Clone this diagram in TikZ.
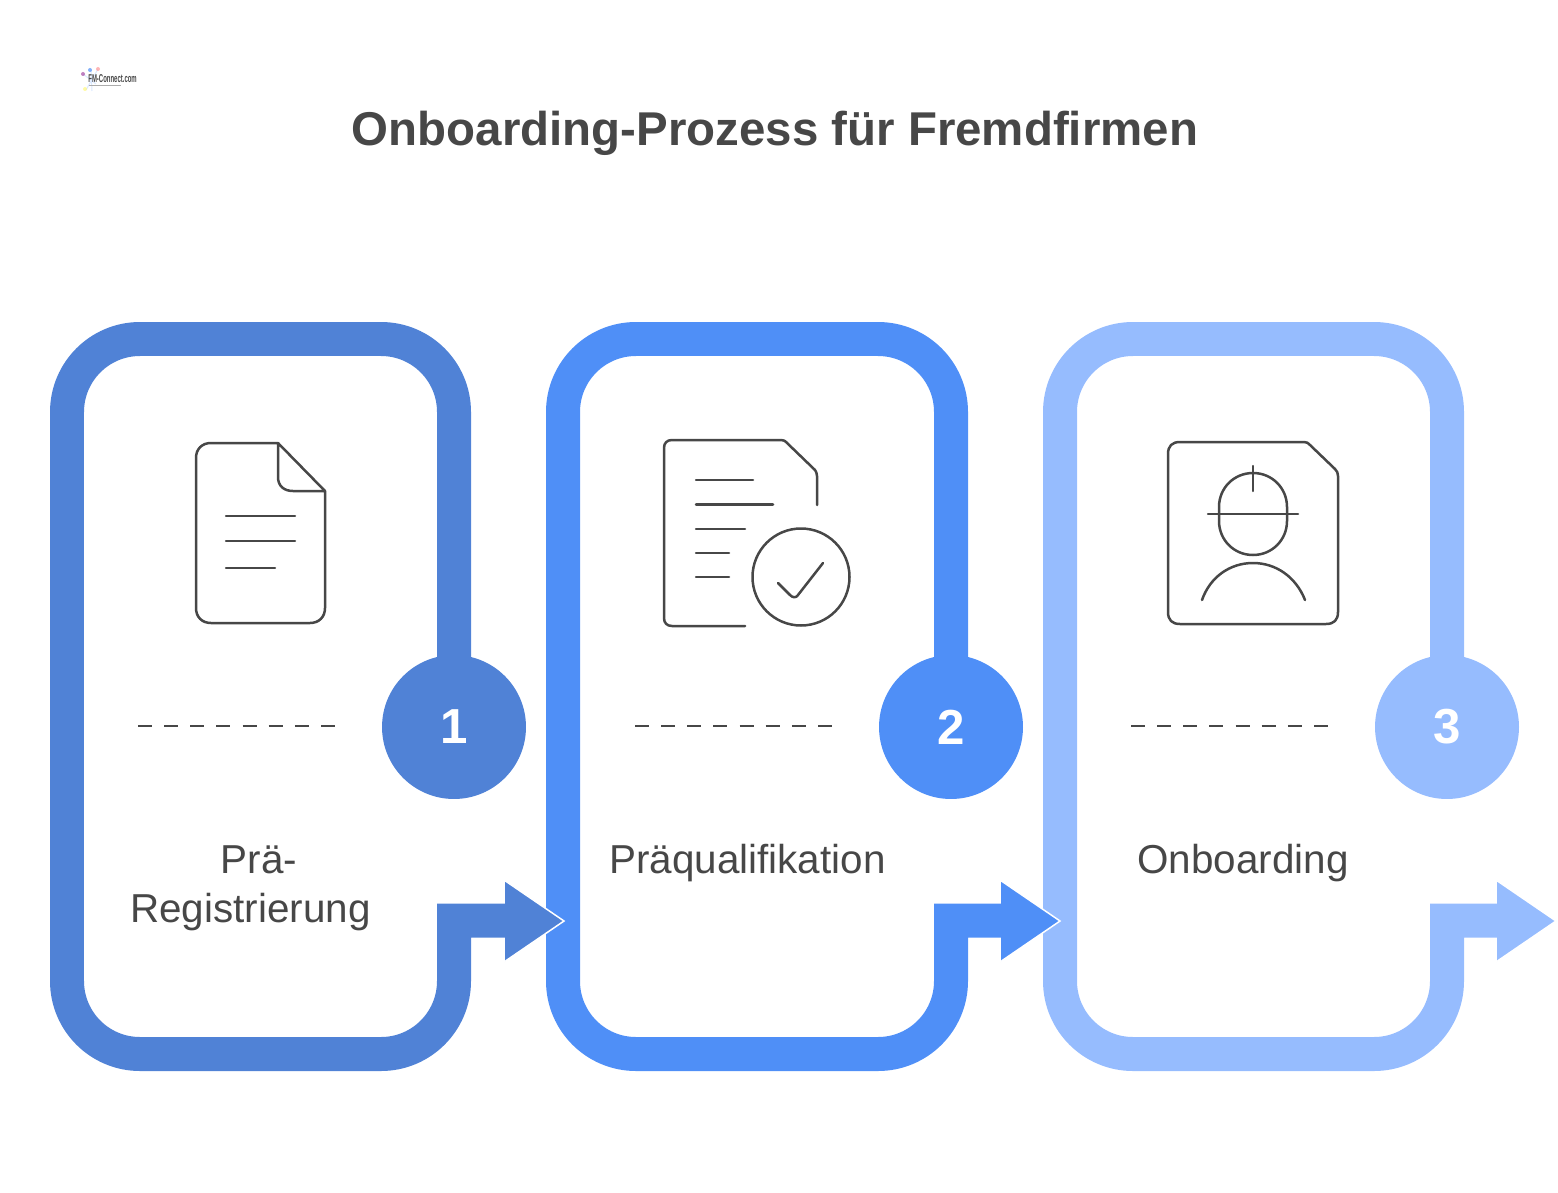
\documentclass[tikz,border=0pt]{standalone}
\usepackage{fontspec}
\setmainfont{Liberation Sans}
\definecolor{stepone}{HTML}{5082D6}
\definecolor{steptwo}{HTML}{4F8FF7}
\definecolor{stepthree}{HTML}{96BCFE}
\definecolor{inkgrey}{HTML}{474747}
\tikzset{
  ring/.style={line width=0.68cm, line join=miter, rounded corners=1.46cm},
  arrowhead/.style={draw=white, line width=0.03cm, line join=miter},
  badge/.style={circle, minimum size=2.88cm, inner sep=0pt, text=white, font=\fontsize{28}{28}\selectfont\bfseries},
  sepline/.style={draw=inkgrey, line width=0.045cm, dash pattern=on 0.28cm off 0.243cm},
  iconline/.style={draw=inkgrey, line width=0.05cm, line cap=round, line join=round},
  steplabel/.style={text=inkgrey, anchor=base, font=\fontsize{23}{23}\selectfont},
  logodot/.style={fill opacity=0.7},
  logostar/.style={draw=stepthree!35, line width=0.02cm},
}
\begin{document}
\begin{tikzpicture}[x=0.02cm, y=-0.02cm]
  \useasboundingbox (0,0) rectangle (1558,1193);

  \node[anchor=base, text=inkgrey, font=\fontsize{27}{27}\selectfont\bfseries] (title) at (775,145) {Onboarding-Prozess für Fremdfirmen};

  \draw[logostar] (83,74) -- (96,84);
  \draw[logostar] (98,69) -- (86,90);
  \draw[logostar] (91,70) -- (92,91);
  \fill[logodot, violet!70] (83,74) circle (2);
  \fill[logodot, steptwo] (90,70) circle (2);
  \fill[logodot, red!40] (98,69) circle (2);
  \fill[logodot, yellow!50] (85,89) circle (2);
  \node[anchor=west, inner sep=0pt, text=inkgrey, font=\fontsize{3.4}{3.4}\selectfont\bfseries] (logo) at (88,79) {\scalebox{1}[1.9]{FM-Connect.com}};
  \fill[inkgrey!45] (89,85.5) rectangle (121,86.5);

  \filldraw[fill=stepthree, arrowhead] (1496,880) -- (1556,921) -- (1496,962) -- cycle;
  \draw[ring, stepthree] (1447,660) -- (1447,339) -- (1060,339) -- (1060,1054) -- (1447,1054) [sharp corners] -- (1447,920.5) -- (1500,920.5);
  \node[badge, fill=stepthree] (badgethree) at (1447,727) {3};
  \draw[sepline] (1131,726) -- (1329,726);
  \node[steplabel] (labelthree) at (1243,873) {Onboarding};

  \filldraw[fill=steptwo, arrowhead] (1000,880) -- (1060,921) -- (1000,962) -- cycle;
  \draw[ring, steptwo] (951,660) -- (951,339) -- (563,339) -- (563,1054) -- (951,1054) [sharp corners] -- (951,920.5) -- (1004,920.5);
  \node[badge, fill=steptwo] (badgetwo) at (951,727) {2};
  \draw[sepline] (635,726) -- (833,726);
  \node[steplabel] (labeltwo) at (747.5,873) {Präqualifikation};

  \filldraw[fill=stepone, arrowhead] (504,880) -- (564,921) -- (504,962) -- cycle;
  \draw[ring, stepone] (454,660) -- (454,339) -- (67,339) -- (67,1054) -- (454,1054) [sharp corners] -- (454,920.5) -- (508,920.5);
  \node[badge, fill=stepone] (badgeone) at (454,727) {1};
  \draw[sepline] (138,726) -- (336,726);
  \node[steplabel] (labelone) at (259,873) {Prä-};
  \node[steplabel] (labeloneb) at (250.5,922) {Registrierung};

  \draw[iconline] (278,443) -- (211,443) .. controls (202,443) and (196,449) .. (196,458) -- (196,608) .. controls (196,617) and (202,623) .. (211,623) -- (310,623) .. controls (319,623) and (325,617) .. (325,608) -- (325,491) -- (278,443) -- (278,477) .. controls (278,486) and (284,491) .. (293,491) -- (325,491);
  \draw[iconline] (226,516) -- (295,516);
  \draw[iconline] (226,541) -- (295,541);
  \draw[iconline] (226,568) -- (275,568);

  \draw[iconline] (817,505) -- (817,476) .. controls (817,473) and (816,472) .. (815,470) -- (786,442) .. controls (785,441) and (784,440) .. (781,440) -- (672,440) .. controls (667,440) and (664,443) .. (664,448) -- (664,618) .. controls (664,623) and (667,626) .. (672,626) -- (745,626);
  \draw[iconline] (696,480) -- (753,480);
  \draw[iconline] (696,504.5) -- (773,504.5);
  \draw[iconline] (696,529) -- (745,529);
  \draw[iconline] (696,553) -- (729,553);
  \draw[iconline] (696,577) -- (729,577);
  \draw[iconline] (801,577) circle (48.5);
  \draw[iconline] (778,583) -- (790,595) .. controls (793,598) and (796,598) .. (798,595) -- (823,563);

  \draw[iconline] (1180,442) -- (1304,442) .. controls (1307,442) and (1308,443) .. (1310,445) -- (1335,469) .. controls (1337,471) and (1338,473) .. (1338,476) -- (1338,612) .. controls (1338,620) and (1334,624) .. (1326,624) -- (1180,624) .. controls (1172,624) and (1168,620) .. (1168,612) -- (1168,454) .. controls (1168,446) and (1172,442) .. (1180,442) -- cycle;
  \draw[iconline] (1219,507) .. controls (1219,488) and (1234,473) .. (1253,473) .. controls (1272,473) and (1287,488) .. (1287,507) -- (1287,521) .. controls (1287,540) and (1272,555) .. (1253,555) .. controls (1234,555) and (1219,540) .. (1219,521) -- cycle;
  \draw[iconline] (1208,514) -- (1298,514);
  \draw[iconline] (1253,466) -- (1253,491);
  \draw[iconline] (1202,600) .. controls (1210,577) and (1230,563) .. (1253,563) .. controls (1276,563) and (1296,577) .. (1305,600);
\end{tikzpicture}
\end{document}
